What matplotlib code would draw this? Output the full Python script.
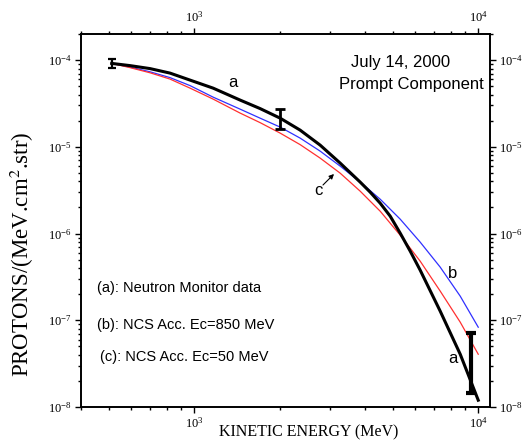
import matplotlib
matplotlib.use('Agg')
import matplotlib.pyplot as plt
from matplotlib.ticker import LogLocator, NullFormatter

# ---- data ----
E_a = [513, 595, 700, 823, 968, 1167, 1452, 1708, 2009, 2362, 2778, 3267, 3842,
       4167, 4518, 4899, 5313, 5762, 6248, 7348, 8642, 10000]
F_a = [9.16e-5, 8.64e-5, 7.98e-5, 7.08e-5, 5.88e-5, 4.75e-5, 3.46e-5, 2.76e-5,
       2.14e-5, 1.558e-5, 1.046e-5, 6.49e-6, 3.92e-6, 3.00e-6, 2.24e-6, 1.588e-6,
       1.011e-6, 6.27e-7, 3.78e-7, 1.274e-7, 4.06e-8, 1.198e-8]

E_b = [513, 595, 700, 823, 968, 1167, 1452, 1708, 2009, 2362, 2778, 3267, 3842,
       4518, 5313, 6248, 7348, 8642, 10000]
F_b = [9.16e-5, 8.30e-5, 7.33e-5, 6.28e-5, 5.08e-5, 3.74e-5, 2.72e-5, 2.14e-5,
       1.688e-5, 1.26e-5, 8.92e-6, 5.99e-6, 3.92e-6, 2.49e-6, 1.466e-6, 7.96e-7,
       4.10e-7, 1.897e-7, 8.32e-8]

E_c = [513, 595, 700, 823, 968, 1167, 1452, 1708, 2009, 2362, 2778, 3267, 3842,
       4518, 5313, 6248, 7348, 8642, 10000]
F_c = [9.16e-5, 8.19e-5, 7.14e-5, 6.04e-5, 4.75e-5, 3.55e-5, 2.45e-5, 1.90e-5,
       1.439e-5, 1.06e-5, 7.41e-6, 4.97e-6, 3.08e-6, 1.81e-6, 9.58e-7, 4.80e-7,
       2.17e-7, 9.51e-8, 4.06e-8]

eb_E = [513, 2010, 9400]
eb_F = [9.16e-5, 2.14e-5, 3.2e-8]
eb_lo = [8.2e-5, 1.6e-5, 1.44e-8]
eb_hi = [1.03e-4, 2.72e-5, 7.1e-8]

legend_lines = ["(a): Neutron Monitor data",
                "(b): NCS Acc. Ec=850 MeV",
                "(c): NCS Acc. Ec=50 MeV"]

plt.rcParams['font.family'] = ['Liberation Serif', 'DejaVu Serif']
plt.rcParams['mathtext.fontset'] = 'stix'
W, H = 527, 445
fig = plt.figure(figsize=(W / 100, H / 100), dpi=100)
ax = fig.add_axes([81 / W, 1 - 407 / H, (490 - 81) / W, (407 - 34) / H])
ax.set_xscale('log')
ax.set_yscale('log')
ax.set_xlim(400, 11000)
ax.set_ylim(1e-8, 2e-4)

ax.plot(E_b, F_b, color='#3030ff', lw=0.9, zorder=3)
ax.plot(E_c, F_c, color='#ff3030', lw=0.9, zorder=3)
ax.plot(E_a, F_a, color='black', lw=2.2, zorder=4, solid_joinstyle='round')

styles = [(1.6, 3.0, 1.6), (2.0, 3.6, 2.0), (3.0, 3.6, 3.0)]
for i in range(3):
    el, cs, ct = styles[i]
    ax.errorbar([eb_E[i]], [eb_F[i]],
                yerr=[[eb_F[i] - eb_lo[i]], [eb_hi[i] - eb_F[i]]],
                fmt='none', ecolor='black', elinewidth=el, capsize=cs,
                capthick=ct, zorder=5)

for s in ax.spines.values():
    s.set_linewidth(1.4)

ax.xaxis.set_major_locator(LogLocator(base=10, numticks=10))
ax.xaxis.set_minor_locator(LogLocator(base=10, subs=range(2, 10), numticks=20))
ax.yaxis.set_major_locator(LogLocator(base=10, numticks=10))
ax.yaxis.set_minor_locator(LogLocator(base=10, subs=range(2, 10), numticks=20))
ax.xaxis.set_minor_formatter(NullFormatter())
ax.yaxis.set_minor_formatter(NullFormatter())
ax.tick_params(which='both', direction='out', top=True, right=True,
               labeltop=True, labelright=True, labelsize=9, width=1.0)
ax.tick_params(which='major', length=4.2, pad=2.5)
ax.tick_params(which='minor', length=2.2)

def px2data(x, y):
    return ax.transData.inverted().transform(fig.transFigure.transform((x / W, 1 - y / H)))

fig.canvas.draw()
sans = 'Liberation Sans'
ax.text(*px2data(401, 62), "July 14, 2000", ha='center', va='center', fontsize=12, family=sans)
ax.text(*px2data(411, 85), "Prompt Component", ha='center', va='center', fontsize=12, family=sans)
for txt, (x, y) in [("a", (233, 82)), ("b", (453, 273)), ("a", (453, 358)), ("c", (318, 190))]:
    ax.text(*px2data(x, y), txt, ha='center', va='center', fontsize=12, family=sans)
tx, ty = px2data(323, 185)
hx, hy = px2data(334, 174)
ax.annotate("", xy=(hx, hy), xytext=(tx, ty),
            arrowprops=dict(arrowstyle='-|>', color='black', lw=0.8,
                            mutation_scale=7, shrinkA=0, shrinkB=0))
for txt, (x, y) in zip(legend_lines, [(97, 288), (97, 325), (100, 357)]):
    ax.text(*px2data(x, y), txt, ha='left', va='center', fontsize=10.5, family=sans)

fig.text(309 / W, 1 - 432 / H, "KINETIC ENERGY (MeV)", ha='center', va='center',
         fontsize=11.5)
fig.text(22 / W, 1 - 254 / H, r"PROTONS/(MeV.cm$^{2}$.str)", ha='center', va='center',
         rotation=90, fontsize=16.5)

fig.savefig('out.png', dpi=100)
